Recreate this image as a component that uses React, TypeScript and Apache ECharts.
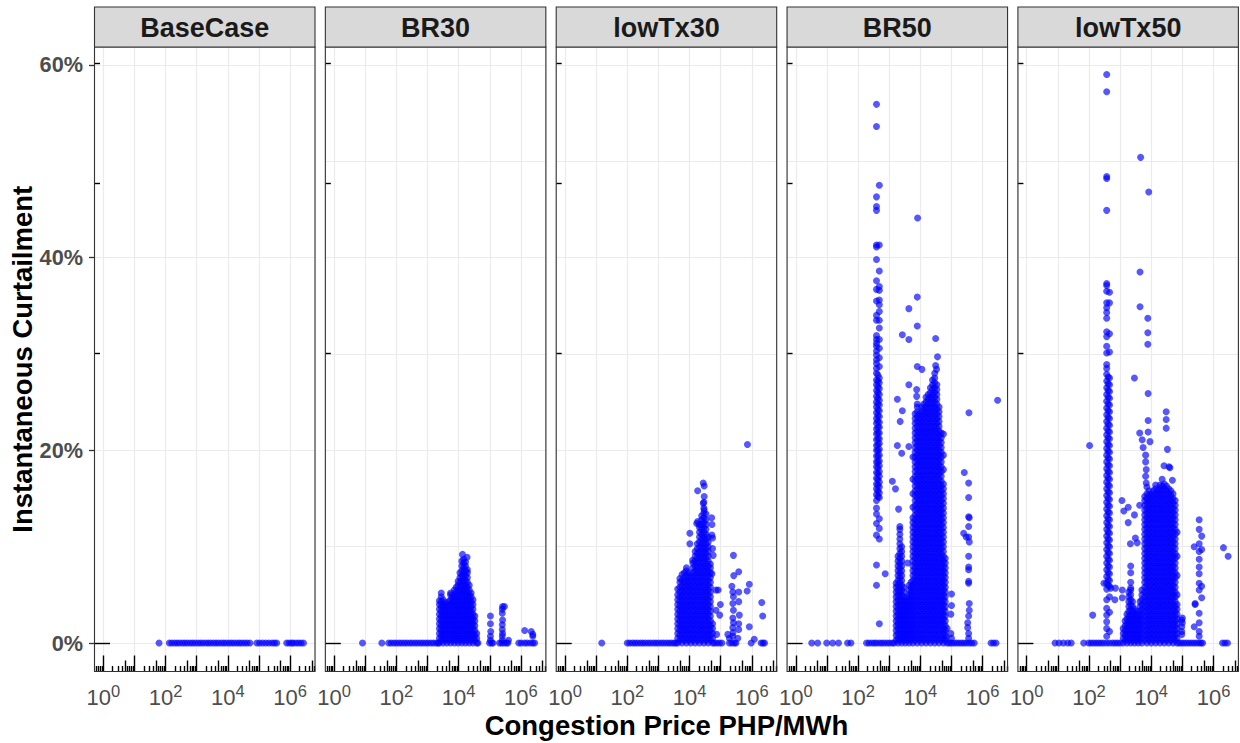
import React, { useEffect, useRef } from 'react';
import * as echarts from 'echarts';

// ---------- axis / scale values ----------
const panelNames = ['BaseCase', 'BR30', 'lowTx30', 'BR50', 'lowTx50'];
const logPriceMin = -0.283; // log10(PHP/MWh)
const logPriceMax = 6.8;
const curtMin = -2.95; // %
const curtMax = 61.85;
const xLabelExponents = [0, 2, 4, 6];
const yLabelValues = [0, 20, 40, 60];
const xTitle = 'Congestion Price PHP/MWh';
const yTitle = 'Instantaneous Curtailment';

// ---------- data: x = log10(congestion price), y = curtailment % ----------
// points at 0 % curtailment (x only)
const baseZero = [1.79, 2.12, 2.2, 2.29, 2.37, 2.45, 2.54, 2.62, 2.7, 2.79, 2.87, 2.95, 3.04, 3.12, 3.2, 3.29, 3.37, 3.45, 3.54, 3.62, 3.7, 3.79, 3.87, 3.95, 4.04, 4.12, 4.2, 4.29, 4.37, 4.45, 4.54, 4.62, 4.71, 4.93, 5.02, 5.12, 5.22, 5.32, 5.42, 5.5, 5.57, 5.89, 5.97, 6.05, 6.1, 6.19, 6.27, 6.35, 6.43];

const br30Zero = [0.91, 1.53, 1.75, 1.83, 1.92, 2.0, 2.09, 2.17, 2.26, 2.34, 2.43, 2.51, 2.6, 2.68, 2.77, 2.85, 2.94, 3.02, 3.11, 3.19, 3.28, 3.34, 4.62, 4.99, 5.06, 5.1, 5.31, 5.38, 5.45, 5.53, 5.58, 5.93, 6.01, 6.12, 6.2, 6.3, 6.38, 6.44];
const br30Cols: [number, number[]][] = [
  [3.38, [0, 0.5, 1, 1.5, 2, 2.5, 3, 3.5, 4, 4.4]],
  [3.44, [0.3, 0.8, 1.3, 1.8, 2.3, 2.8, 3.3, 3.8, 4.3, 4.8, 5.2]],
  [3.5, [0, 0.5, 1, 1.5, 2, 2.5, 3, 3.5, 4, 4.5]],
  [3.56, [0.3, 0.8, 1.3, 1.8, 2.3, 2.8, 3.3, 3.8, 4.2]],
  [3.62, [0, 0.5, 1, 1.5, 2, 2.5, 3, 3.5, 4]],
  [3.68, [0.3, 0.8, 1.3, 1.8, 2.3, 2.8, 3.3, 3.8, 4.3]],
  [3.74, [0, 0.5, 1, 1.5, 2, 2.5, 3, 3.5, 4, 4.5, 5, 5.2]],
  [3.8, [0.3, 0.8, 1.3, 1.8, 2.3, 2.8, 3.3, 3.8, 4.3, 4.8]],
  [3.86, [0, 0.5, 1, 1.5, 2, 2.5, 3, 3.5, 4, 4.5, 5, 5.5]],
  [3.92, [0.3, 0.8, 1.3, 1.8, 2.3, 2.8, 3.3, 3.8, 4.3, 4.8, 5.3, 5.8]],
  [3.98, [0, 0.5, 1, 1.5, 2, 2.5, 3, 3.5, 4, 4.5, 5, 5.5, 6, 6.4]],
  [4.04, [0.3, 0.8, 1.3, 1.8, 2.3, 2.8, 3.3, 3.8, 4.3, 4.8, 5.3, 5.8, 6.3, 6.8, 7.3]],
  [4.1, [0, 0.5, 1, 1.5, 2, 2.5, 3, 3.5, 4, 4.5, 5, 5.5, 6, 6.5, 7, 7.5, 8, 8.5]],
  [4.12, [9.2]],
  [4.16, [0.3, 0.8, 1.3, 1.8, 2.3, 2.8, 3.3, 3.8, 4.3, 4.8, 5.3, 5.8, 6.3, 6.8, 7.3, 7.8, 8.3, 8.7]],
  [4.22, [0, 0.5, 1, 1.5, 2, 2.5, 3, 3.5, 4, 4.5, 5, 5.5, 6, 6.5, 7, 7.5, 8, 8.4]],
  [4.27, [8.9]],
  [4.28, [0.3, 0.8, 1.3, 1.8, 2.3, 2.8, 3.3, 3.8, 4.3, 4.8, 5.3, 5.8, 6.3, 6.8, 7.3, 7.6]],
  [4.34, [0, 0.5, 1, 1.5, 2, 2.5, 3, 3.5, 4, 4.5, 5, 5.5, 6]],
  [4.4, [0.3, 0.8, 1.3, 1.8, 2.3, 2.8, 3.3, 3.8, 4.3, 4.8, 5.2]],
  [4.46, [0, 0.5, 1, 1.5, 2, 2.5, 3, 3.5, 4, 4.5]],
  [4.52, [0.3, 0.8, 1.3, 1.8, 2.3, 2.8]],
  [4.58, [0, 0.5, 1.0]],
];
const br30Pts = [[5.02, 0.3], [5.02, 0.7], [5.03, 1.2], [5.02, 2.0], [5.02, 2.8], [5.4, 0.3], [5.4, 0.7], [5.41, 1.0], [5.4, 1.4], [5.4, 1.9], [5.41, 2.4], [5.4, 3.1], [5.4, 3.5], [5.41, 3.8], [5.47, 3.8], [5.6, 0.3], [6.12, 1.3], [6.33, 1.2], [6.38, 0.9], [6.38, 0.7]];

const lt30Zero = [1.18, 2.0, 2.08, 2.17, 2.25, 2.33, 2.42, 2.5, 2.58, 2.67, 2.75, 2.84, 2.92, 3.0, 3.09, 3.17, 3.26, 3.34, 3.42, 3.5, 3.56, 4.8, 4.88, 4.96, 5.04, 5.28, 5.36, 5.44, 5.49, 5.98, 6.3, 6.36, 6.41];
const lt30Cols: [number, number[]][] = [
  [3.62, [0, 0.5, 1, 1.5, 2, 2.5, 3, 3.5, 4, 4.5, 5, 5.6]],
  [3.69, [0.3, 0.8, 1.3, 1.8, 2.3, 2.8, 3.3, 3.8, 4.3, 4.8, 5.3, 5.8, 6.3, 6.7]],
  [3.76, [0, 0.5, 1, 1.5, 2, 2.5, 3, 3.5, 4, 4.5, 5, 5.5, 6, 6.5, 7.1]],
  [3.83, [0.3, 0.8, 1.3, 1.8, 2.3, 2.8, 3.3, 3.8, 4.3, 4.8, 5.3, 5.8, 6.3, 6.8, 7.3]],
  [3.9, [0, 0.5, 1, 1.5, 2, 2.5, 3, 3.5, 4, 4.5, 5, 5.5, 6, 6.5, 7, 7.5, 7.8]],
  [3.97, [0.3, 0.8, 1.3, 1.8, 2.3, 2.8, 3.3, 3.8, 4.3, 4.8, 5.3, 5.8, 6.3, 6.8, 7.3]],
  [4.04, [0, 0.5, 1, 1.5, 2, 2.5, 3, 3.5, 4, 4.5, 5, 5.5, 6, 6.5, 7]],
  [4.11, [0.3, 0.8, 1.3, 1.8, 2.3, 2.8, 3.3, 3.8, 4.3, 4.8, 5.3, 5.8, 6.3, 6.8, 7.3, 7.8, 8.3]],
  [4.18, [0, 0.5, 1, 1.5, 2, 2.5, 3, 3.5, 4, 4.5, 5, 5.5, 6, 6.5, 7, 7.5, 8, 8.5, 9, 9.5]],
  [4.25, [0.3, 0.8, 1.3, 1.8, 2.3, 2.8, 3.3, 3.8, 4.3, 4.8, 5.3, 5.8, 6.3, 6.8, 7.3, 7.8, 8.3, 8.8, 9.3, 9.8, 10.3]],
  [4.32, [0, 0.5, 1, 1.5, 2, 2.5, 3, 3.5, 4, 4.5, 5, 5.5, 6, 6.5, 7, 7.5, 8, 8.5, 9, 9.5, 10, 10.5, 11, 11.5, 12, 12.3]],
  [4.39, [0.3, 0.8, 1.3, 1.8, 2.3, 2.8, 3.3, 3.8, 4.3, 4.8, 5.3, 5.8, 6.3, 6.8, 7.3, 7.8, 8.3, 8.8, 9.3, 9.8, 10.3, 10.8, 11.3, 11.8, 12.3, 12.8, 13.2]],
  [4.46, [0, 0.5, 1, 1.5, 2, 2.5, 3, 3.5, 4, 4.5, 5, 5.5, 6, 6.5, 7, 7.5, 8, 8.5, 9, 9.5, 10, 10.5, 11, 11.5, 12, 12.5, 13, 13.5, 14, 14.6]],
  [4.53, [0.3, 0.8, 1.3, 1.8, 2.3, 2.8, 3.3, 3.8, 4.3, 4.8, 5.3, 5.8, 6.3, 6.8, 7.3, 7.8, 8.3, 8.8, 9.3, 9.8, 10.3, 10.8, 11.3, 11.8, 12.3, 12.8, 13.4]],
  [4.6, [0, 0.5, 1, 1.5, 2, 2.5, 3, 3.5, 4, 4.5, 5, 5.5, 6, 6.5, 7, 7.5, 8, 8.5, 9, 9.5, 10, 10.5, 11]],
  [4.67, [0.3, 0.8, 1.3, 1.8, 2.3, 2.8, 3.3, 3.8, 4.3, 4.8, 5.3, 5.8, 6.3, 6.8, 7.3, 7.8, 8.2]],
  [4.74, [0, 0.5, 1, 1.5, 2]],
];
const lt30Pts = [[4.44, 16.6], [4.47, 16.3], [4.26, 15.8], [4.47, 15.2], [4.44, 14.5], [4.47, 13.8], [4.71, 13.0], [4.72, 12.3], [4.72, 11.2], [4.74, 10.9], [4.74, 9.8], [4.76, 9.1], [4.72, 7.2], [4.85, 5.5], [4.92, 5.5], [4.99, 4.0], [4.85, 3.4], [4.97, 2.9], [4.87, 0.9], [4.23, 12.4], [4.26, 12.6], [4.1, 8.6], [4.01, 11.4], [4.01, 10.3], [5.41, 9.1], [5.42, 7.0], [5.58, 7.4], [5.36, 5.9], [5.39, 5.3], [5.41, 4.8], [5.39, 4.1], [5.41, 3.4], [5.39, 2.6], [5.41, 2.1], [5.39, 1.6], [5.4, 1.1], [5.39, 0.7], [5.58, 5.3], [5.58, 4.3], [5.6, 2.9], [5.58, 2.0], [5.58, 1.4], [5.55, 0.5], [5.23, 0.9], [5.28, 0.5], [5.86, 20.6], [5.92, 6.1], [5.85, 5.4], [5.92, 1.7], [6.08, 0.4], [6.32, 4.2], [6.35, 2.8]];

const br50Zero = [0.51, 0.7, 0.99, 1.18, 1.37, 1.66, 1.77, 2.27, 2.35, 2.44, 2.52, 2.76, 2.84, 2.93, 3.01, 3.1, 3.16, 4.86, 4.93, 5.0, 5.08, 5.16, 5.24, 5.32, 5.4, 5.48, 5.57, 5.65, 5.73, 6.27, 6.35, 6.43];
const br50Cols: [number, number[]][] = [
  [2.59, [55.9, 53.6, 46.3, 45.3, 44.9, 41.3, 41.1, 39.8, 37.6, 36.7, 35.5, 34.0, 33.5, 31.9, 31.5, 31.1, 30.8, 30.3, 29.9, 29.4, 29.0, 28.5, 28.0, 27.3, 26.8, 26.2, 25.6, 25.0, 24.5, 23.9, 23.3, 22.8, 22.2, 21.7, 21.1, 20.5, 20.0, 19.4, 18.8, 18.3, 17.7, 17.1, 16.5, 16.0, 15.4, 14.8, 14.0, 13.4, 12.4, 11.2, 8.1, 6.0, 0]],
  [2.635, [27.8, 27.2, 26.6, 26.0, 25.4, 24.8, 24.2, 23.6, 23.0, 22.4, 21.8, 21.2, 20.6, 20.0, 19.4, 18.8, 18.2, 17.6, 17.0, 16.4, 15.8, 15.2]],
  [2.68, [47.5, 41.3, 38.6, 37.0, 36.6, 35.6, 35.1, 34.4, 33.5, 32.7, 31.5, 30.6, 29.6, 28.7, 27.5, 27.0, 26.4, 25.8, 25.2, 24.7, 24.1, 23.5, 22.9, 22.4, 21.8, 21.2, 20.7, 20.1, 19.5, 18.9, 18.4, 17.8, 17.3, 16.7, 16.2, 15.6, 15.1, 12.9, 11.9, 10.8, 2.0, 0]],
  [3.22, [0.3, 0.8, 1.3, 1.8, 2.3, 2.8, 3.3, 3.8, 4.3, 4.8, 5.3, 5.8, 6.2]],
  [3.28, [0, 0.5, 1, 1.5, 2, 2.5, 3, 3.5, 4, 4.5, 5, 5.5, 6, 6.5, 7, 7.5, 8, 8.5, 9]],
  [3.34, [0.3, 0.8, 1.3, 1.8, 2.3, 2.8, 3.3, 3.8, 4.3, 4.8, 5.3, 5.8, 6.3, 6.8, 7.3, 7.8, 8.3, 8.8, 9.3, 9.8, 10.3, 10.8, 11.3, 11.8, 12.1]],
  [3.4, [0, 0.5, 1, 1.5, 2, 2.5, 3, 3.5, 4, 4.5, 5, 5.5, 6, 6.5, 7, 7.5, 8, 8.5, 9, 9.5, 10]],
  [3.46, [0.3, 0.8, 1.3, 1.8, 2.3, 2.8, 3.3, 3.8, 4.3, 4.8, 5.3, 5.8]],
  [3.52, [0, 0.5, 1, 1.5, 2, 2.5, 3, 3.5, 4, 4.5]],
  [3.58, [0.3, 0.8, 1.3, 1.8, 2.3, 2.8, 3.3, 3.8, 4.3, 4.8]],
  [3.64, [0, 0.5, 1, 1.5, 2, 2.5, 3, 3.5, 4, 4.5, 5, 5.5, 6]],
  [3.7, [0.3, 0.8, 1.3, 1.8, 2.3, 2.8, 3.3, 3.8, 4.3, 4.8, 5.3, 5.8, 6.3]],
  [3.76, [0, 0.5, 1, 1.5, 2, 2.5, 3, 3.5, 4, 4.5, 5, 5.5, 6, 6.5, 7, 7.5, 8, 8.5, 9, 9.5, 10, 10.5, 11, 11.5, 12, 12.5, 13, 14.1, 15.5, 17.0, 19.3]],
  [3.83, [0.3, 0.8, 1.3, 1.8, 2.3, 2.8, 3.3, 3.8, 4.3, 4.8, 5.3, 5.8, 6.3, 6.8, 7.3, 7.8, 8.3, 8.8, 9.3, 9.8, 10.3, 10.8, 11.3, 11.8, 12.3, 12.8, 13.3, 13.8, 14.3, 14.8, 15.3, 15.8, 16.3, 16.8, 17.3, 17.8, 18.3, 18.8, 19.3, 19.8, 20.3, 20.8, 21.3, 21.8, 22.3, 22.8, 23.3, 23.8]],
  [3.9, [0, 0.5, 1, 1.5, 2, 2.5, 3, 3.5, 4, 4.5, 5, 5.5, 6, 6.5, 7, 7.5, 8, 8.5, 9, 9.5, 10, 10.5, 11, 11.5, 12, 12.5, 13, 13.5, 14, 14.5, 15, 15.5, 16, 16.5, 17, 17.5, 18, 18.5, 19, 19.5, 20, 20.5, 21, 21.5, 22, 22.5, 23, 23.5, 24, 24.5]],
  [3.97, [0.3, 0.8, 1.3, 1.8, 2.3, 2.8, 3.3, 3.8, 4.3, 4.8, 5.3, 5.8, 6.3, 6.8, 7.3, 7.8, 8.3, 8.8, 9.3, 9.8, 10.3, 10.8, 11.3, 11.8, 12.3, 12.8, 13.3, 13.8, 14.3, 14.8, 15.3, 15.8, 16.3, 16.8, 17.3, 17.8, 18.3, 18.8, 19.3, 19.8, 20.3, 20.8, 21.3, 21.8, 22.3, 22.8, 23.3, 23.8]],
  [4.04, [0, 0.5, 1, 1.5, 2, 2.5, 3, 3.5, 4, 4.5, 5, 5.5, 6, 6.5, 7, 7.5, 8, 8.5, 9, 9.5, 10, 10.5, 11, 11.5, 12, 12.5, 13, 13.5, 14, 14.5, 15, 15.5, 16, 16.5, 17, 17.5, 18, 18.5, 19, 19.5, 20, 20.5, 21, 21.5, 22, 22.5, 23, 23.5, 24, 24.5]],
  [4.11, [0.3, 0.8, 1.3, 1.8, 2.3, 2.8, 3.3, 3.8, 4.3, 4.8, 5.3, 5.8, 6.3, 6.8, 7.3, 7.8, 8.3, 8.8, 9.3, 9.8, 10.3, 10.8, 11.3, 11.8, 12.3, 12.8, 13.3, 13.8, 14.3, 14.8, 15.3, 15.8, 16.3, 16.8, 17.3, 17.8, 18.3, 18.8, 19.3, 19.8, 20.3, 20.8, 21.3, 21.8, 22.3, 22.8, 23.3, 23.8, 24.3, 24.8]],
  [4.18, [0, 0.5, 1, 1.5, 2, 2.5, 3, 3.5, 4, 4.5, 5, 5.5, 6, 6.5, 7, 7.5, 8, 8.5, 9, 9.5, 10, 10.5, 11, 11.5, 12, 12.5, 13, 13.5, 14, 14.5, 15, 15.5, 16, 16.5, 17, 17.5, 18, 18.5, 19, 19.5, 20, 20.5, 21, 21.5, 22, 22.5, 23, 23.5, 24, 24.5, 25, 25.5]],
  [4.25, [0.3, 0.8, 1.3, 1.8, 2.3, 2.8, 3.3, 3.8, 4.3, 4.8, 5.3, 5.8, 6.3, 6.8, 7.3, 7.8, 8.3, 8.8, 9.3, 9.8, 10.3, 10.8, 11.3, 11.8, 12.3, 12.8, 13.3, 13.8, 14.3, 14.8, 15.3, 15.8, 16.3, 16.8, 17.3, 17.8, 18.3, 18.8, 19.3, 19.8, 20.3, 20.8, 21.3, 21.8, 22.3, 22.8, 23.3, 23.8, 24.3, 24.8, 25.3, 25.8]],
  [4.32, [0, 0.5, 1, 1.5, 2, 2.5, 3, 3.5, 4, 4.5, 5, 5.5, 6, 6.5, 7, 7.5, 8, 8.5, 9, 9.5, 10, 10.5, 11, 11.5, 12, 12.5, 13, 13.5, 14, 14.5, 15, 15.5, 16, 16.5, 17, 17.5, 18, 18.5, 19, 19.5, 20, 20.5, 21, 21.5, 22, 22.5, 23, 23.5, 24, 24.5, 25, 25.5, 26, 26.5]],
  [4.39, [0.3, 0.8, 1.3, 1.8, 2.3, 2.8, 3.3, 3.8, 4.3, 4.8, 5.3, 5.8, 6.3, 6.8, 7.3, 7.8, 8.3, 8.8, 9.3, 9.8, 10.3, 10.8, 11.3, 11.8, 12.3, 12.8, 13.3, 13.8, 14.3, 14.8, 15.3, 15.8, 16.3, 16.8, 17.3, 17.8, 18.3, 18.8, 19.3, 19.8, 20.3, 20.8, 21.3, 21.8, 22.3, 22.8, 23.3, 23.8, 24.3, 24.8, 25.3, 25.8, 26.3, 26.8, 27.3]],
  [4.46, [0, 0.5, 1, 1.5, 2, 2.5, 3, 3.5, 4, 4.5, 5, 5.5, 6, 6.5, 7, 7.5, 8, 8.5, 9, 9.5, 10, 10.5, 11, 11.5, 12, 12.5, 13, 13.5, 14, 14.5, 15, 15.5, 16, 16.5, 17, 17.5, 18, 18.5, 19, 19.5, 20, 20.5, 21, 21.5, 22, 22.5, 23, 23.5, 24, 24.5, 25, 25.5, 26, 26.5, 27, 27.5, 28]],
  [4.53, [0.3, 0.8, 1.3, 1.8, 2.3, 2.8, 3.3, 3.8, 4.3, 4.8, 5.3, 5.8, 6.3, 6.8, 7.3, 7.8, 8.3, 8.8, 9.3, 9.8, 10.3, 10.8, 11.3, 11.8, 12.3, 12.8, 13.3, 13.8, 14.3, 14.8, 15.3, 15.8, 16.3, 16.8, 17.3, 17.8, 18.3, 18.8, 19.3, 19.8, 20.3, 20.8, 21.3, 21.8, 22.3, 22.8, 23.3, 23.8, 24.3, 24.8, 25.3, 25.8, 26.3, 26.8]],
  [4.6, [0, 0.5, 1, 1.5, 2, 2.5, 3, 3.5, 4, 4.5, 5, 5.5, 6, 6.5, 7, 7.5, 8, 8.5, 9, 9.5, 10, 10.5, 11, 11.5, 12, 12.5, 13, 13.5, 14, 14.5, 15, 15.5, 16, 16.5, 17, 17.5, 18, 18.5, 19, 19.5, 20, 20.5, 21, 21.5, 22, 22.5, 23, 23.5, 24, 24.5]],
  [4.67, [0.3, 0.8, 1.3, 1.8, 2.3, 2.8, 3.3, 3.8, 4.3, 4.8, 5.3, 5.8, 6.3, 6.8, 7.3, 7.8, 8.3, 8.8, 9.3, 9.8, 10.3, 10.8, 11.3, 11.8, 12.3, 12.8, 13.3, 13.8, 14.3, 14.8, 15.3, 15.8, 16.3, 16.8, 17.3, 17.8, 18.3, 18.8, 19.3, 19.8, 20.3, 20.8, 21.3, 21.8]],
  [4.74, [0, 0.5, 1, 1.5, 2, 2.5, 3, 3.5, 4, 4.5, 5, 5.5, 6, 6.5, 7, 7.5, 8, 8.5, 9, 9.5, 10, 10.5, 11, 11.5, 12, 12.5, 13, 13.5, 14, 14.5, 15, 15.5, 16, 16.5, 18.0, 19.5, 21.7]],
  [4.8, [0.3, 0.8, 1.3, 1.8, 2.3, 2.8, 3.3, 3.8, 4.3, 4.8, 5.3, 5.8, 6.3, 6.8, 7.3, 7.8, 8.3, 8.8]],
];
const br50Pts = [[3.91, 44.1], [3.9, 35.9], [3.63, 34.7], [3.9, 32.9], [3.42, 32.0], [3.63, 31.5], [4.49, 31.6], [4.55, 29.7], [3.9, 28.7], [4.05, 28.4], [4.49, 28.8], [4.52, 28.4], [3.63, 26.8], [3.26, 25.3], [3.42, 24.1], [3.35, 23.0], [3.26, 20.5], [3.4, 19.7], [3.63, 20.4], [3.1, 16.8], [3.2, 16.0], [3.3, 13.9], [2.87, 7.2], [3.59, 8.3], [3.88, 26.3], [3.88, 25.6], [3.9, 24.8], [5.56, 23.9], [6.48, 25.2], [5.41, 17.7], [5.55, 16.6], [5.55, 15.1], [5.55, 13.1], [5.57, 13.0], [5.55, 12.1], [5.39, 11.4], [5.47, 11.0], [5.55, 11.0], [5.57, 10.5], [5.55, 9.0], [5.55, 7.9], [5.55, 7.6], [5.55, 6.4], [5.55, 6.2], [5.57, 4.1], [5.57, 3.4], [5.55, 2.8], [5.52, 2.1], [5.52, 1.6], [5.55, 1.0], [5.55, 0.5], [5.0, 5.1], [5.0, 3.9], [4.98, 3.0], [4.98, 1.0], [5.0, 0.5], [4.86, 1.5], [4.84, 0.6]];

const lt50Zero = [0.91, 1.04, 1.18, 1.32, 1.43, 1.83, 1.99, 2.07, 2.15, 2.23, 2.31, 2.39, 2.47, 2.76, 2.84, 2.92, 3.0, 4.9, 4.97, 5.05, 5.13, 5.21, 5.29, 5.37, 5.45, 5.53, 5.6, 5.65, 6.29, 6.37, 6.45];
const lt50Cols: [number, number[]][] = [
  [2.57, [59.0, 57.2, 48.4, 48.2, 44.9, 37.3, 37.1, 36.5, 35.3, 34.8, 34.3, 33.7, 32.3, 31.8, 30.8, 30.1, 28.9, 28.5, 27.9, 27.2, 26.5, 25.8, 25.1, 24.4, 23.7, 23.0, 22.3, 21.6, 20.9, 20.2, 19.5, 18.8, 18.1, 17.4, 16.7, 16.0, 15.3, 14.6, 13.9, 13.2, 12.5, 11.8, 11.1, 10.4, 9.7, 9.0, 8.3, 7.6, 6.9, 6.2, 5.6, 4.5, 3.6, 2.9, 2.2, 1.5, 0.7, 0]],
  [2.615, [27.6, 26.9, 26.2, 25.5, 24.8, 24.1, 23.4, 22.7, 22.0, 21.3, 20.6, 19.9, 19.2, 18.5, 17.8, 17.1, 16.4, 15.7, 15.0, 14.3, 13.6, 12.9, 12.2, 11.5, 10.8, 10.1, 9.4, 8.7, 8.0, 7.3, 6.6, 6.0]],
  [2.66, [36.4, 35.3, 32.1, 30.2, 27.5, 26.8, 26.1, 25.4, 24.7, 24.0, 23.3, 22.6, 21.9, 21.2, 20.5, 19.8, 19.1, 18.4, 17.7, 17.0, 16.3, 15.6, 14.9, 14.2, 13.5, 12.8, 12.1, 11.4, 10.7, 10.0, 9.3, 8.6, 7.9, 7.2, 6.5, 5.9, 4.8, 3.2, 1.2, 0]],
  [3.1, [0, 0.5, 1, 1.5]],
  [3.16, [0.3, 0.8, 1.3, 1.8, 2.3]],
  [3.22, [0, 0.5, 1, 1.5, 2, 2.5, 3]],
  [3.28, [0.3, 0.8, 1.3, 1.8, 2.3, 2.8, 3.3, 3.8, 4.3, 4.8, 5.3]],
  [3.34, [0, 0.5, 1, 1.5, 2, 2.5, 3, 3.5, 4, 4.5, 5, 5.5, 5.7]],
  [3.4, [0.3, 0.8, 1.3, 1.8, 2.3, 2.8, 3.3, 3.8, 4.3]],
  [3.46, [0, 0.5, 1, 1.5, 2, 2.5, 3, 3.5]],
  [3.52, [0.3, 0.8, 1.3, 1.8, 2.3, 2.8, 3.3]],
  [3.58, [0, 0.5, 1, 1.5, 2, 2.5, 3]],
  [3.64, [0.3, 0.8, 1.3, 1.8, 2.3, 2.8, 3.3, 3.8, 4.3]],
  [3.7, [0, 0.5, 1, 1.5, 2, 2.5, 3, 3.5, 4, 4.5, 5, 5.5]],
  [3.79, [0.3, 0.8, 1.3, 1.8, 2.3, 2.8, 3.3, 3.8, 4.3, 4.8, 5.3, 5.8, 6.3, 6.8, 7.3, 7.8, 8.3, 8.8, 9.3, 9.8, 10.3, 10.8, 11.3, 11.8, 12.3, 12.8, 13.3, 13.8, 14.3, 14.8, 15.2]],
  [3.86, [0, 0.5, 1, 1.5, 2, 2.5, 3, 3.5, 4, 4.5, 5, 5.5, 6, 6.5, 7, 7.5, 8, 8.5, 9, 9.5, 10, 10.5, 11, 11.5, 12, 12.5, 13, 13.5, 14, 14.5, 15, 15.5, 16.2]],
  [3.93, [0.3, 0.8, 1.3, 1.8, 2.3, 2.8, 3.3, 3.8, 4.3, 4.8, 5.3, 5.8, 6.3, 6.8, 7.3, 7.8, 8.3, 8.8, 9.3, 9.8, 10.3, 10.8, 11.3, 11.8, 12.3, 12.8, 13.3, 13.8, 14.3, 14.8, 15.3, 15.8]],
  [4.0, [0, 0.5, 1, 1.5, 2, 2.5, 3, 3.5, 4, 4.5, 5, 5.5, 6, 6.5, 7, 7.5, 8, 8.5, 9, 9.5, 10, 10.5, 11, 11.5, 12, 12.5, 13, 13.5, 14, 14.5, 15, 15.5]],
  [4.07, [0.3, 0.8, 1.3, 1.8, 2.3, 2.8, 3.3, 3.8, 4.3, 4.8, 5.3, 5.8, 6.3, 6.8, 7.3, 7.8, 8.3, 8.8, 9.3, 9.8, 10.3, 10.8, 11.3, 11.8, 12.3, 12.8, 13.3, 13.8, 14.3, 14.8, 15.3, 15.8]],
  [4.14, [0, 0.5, 1, 1.5, 2, 2.5, 3, 3.5, 4, 4.5, 5, 5.5, 6, 6.5, 7, 7.5, 8, 8.5, 9, 9.5, 10, 10.5, 11, 11.5, 12, 12.5, 13, 13.5, 14, 14.5, 15, 15.5, 16, 16.4]],
  [4.21, [0.3, 0.8, 1.3, 1.8, 2.3, 2.8, 3.3, 3.8, 4.3, 4.8, 5.3, 5.8, 6.3, 6.8, 7.3, 7.8, 8.3, 8.8, 9.3, 9.8, 10.3, 10.8, 11.3, 11.8, 12.3, 12.8, 13.3, 13.8, 14.3, 14.8, 15.3, 15.8]],
  [4.28, [0, 0.5, 1, 1.5, 2, 2.5, 3, 3.5, 4, 4.5, 5, 5.5, 6, 6.5, 7, 7.5, 8, 8.5, 9, 9.5, 10, 10.5, 11, 11.5, 12, 12.5, 13, 13.5, 14, 14.5, 15, 15.5, 16, 16.4]],
  [4.35, [0.3, 0.8, 1.3, 1.8, 2.3, 2.8, 3.3, 3.8, 4.3, 4.8, 5.3, 5.8, 6.3, 6.8, 7.3, 7.8, 8.3, 8.8, 9.3, 9.8, 10.3, 10.8, 11.3, 11.8, 12.3, 12.8, 13.3, 13.8, 14.3, 14.8, 15.3, 15.8, 16.3, 17.0]],
  [4.42, [0, 0.5, 1, 1.5, 2, 2.5, 3, 3.5, 4, 4.5, 5, 5.5, 6, 6.5, 7, 7.5, 8, 8.5, 9, 9.5, 10, 10.5, 11, 11.5, 12, 12.5, 13, 13.5, 14, 14.5, 15, 15.5, 16, 16.5]],
  [4.49, [0.3, 0.8, 1.3, 1.8, 2.3, 2.8, 3.3, 3.8, 4.3, 4.8, 5.3, 5.8, 6.3, 6.8, 7.3, 7.8, 8.3, 8.8, 9.3, 9.8, 10.3, 10.8, 11.3, 11.8, 12.3, 12.8, 13.3, 13.8, 14.3, 14.8, 15.3, 15.8, 16.3]],
  [4.56, [0, 0.5, 1, 1.5, 2, 2.5, 3, 3.5, 4, 4.5, 5, 5.5, 6, 6.5, 7, 7.5, 8, 8.5, 9, 9.5, 10, 10.5, 11, 11.5, 12, 12.5, 13, 13.5, 14, 14.5, 15, 15.5, 16]],
  [4.63, [0.3, 0.8, 1.3, 1.8, 2.3, 2.8, 3.3, 3.8, 4.3, 4.8, 5.3, 5.8, 6.3, 6.8, 7.3, 7.8, 8.3, 8.8, 9.3, 9.8, 10.3, 10.8, 11.3, 11.8, 12.3, 12.8, 13.3, 13.8, 14.3, 14.8, 15.3, 15.8]],
  [4.7, [0, 0.5, 1, 1.5, 2, 2.5, 3, 3.5, 4, 4.5, 5, 5.5, 6, 6.5, 7, 7.5, 8, 8.5, 9, 9.5, 10, 10.5, 11, 11.5, 12, 12.5, 13, 13.5, 14, 14.5, 15, 15.5]],
  [4.77, [0.3, 0.8, 1.3, 1.8, 2.3, 2.8, 3.3, 3.8, 4.3, 4.8, 5.3, 5.8, 6.3, 6.8, 7.3, 7.8, 8.3, 8.8, 9.3, 9.8, 10.3, 10.8, 11.3, 11.8, 12.3, 12.8, 13.3, 13.8, 14.3, 14.8]],
  [4.83, [0, 0.5, 1, 1.5, 2, 2.5, 3, 3.5, 4, 5.0, 7.0, 9.0, 11.5]],
];
const lt50Pts = [[3.66, 50.4], [3.92, 46.8], [3.64, 38.5], [3.64, 34.9], [3.89, 33.7], [3.89, 32.2], [3.89, 31.0], [3.46, 27.5], [3.9, 25.9], [4.48, 24.0], [4.48, 23.2], [4.48, 22.3], [3.9, 23.1], [3.63, 21.8], [3.9, 21.9], [3.71, 21.1], [3.96, 20.9], [3.74, 20.3], [2.02, 20.5], [4.52, 20.1], [4.57, 18.3], [4.41, 18.4], [4.6, 18.2], [4.68, 16.9], [3.82, 19.5], [3.82, 18.8], [3.84, 18.0], [3.82, 17.3], [3.84, 16.6], [3.06, 14.8], [3.12, 13.7], [3.26, 14.1], [3.26, 12.5], [3.63, 14.3], [3.46, 13.3], [3.33, 10.3], [3.49, 10.9], [3.55, 10.4], [3.34, 8.0], [3.34, 7.3], [3.34, 6.3], [2.12, 2.9], [2.85, 5.7], [2.83, 4.5], [2.48, 6.2], [2.7, 5.7], [3.07, 5.5], [3.07, 4.7], [4.98, 2.4], [4.98, 1.7], [4.98, 1.2], [4.98, 0.9], [5.0, 2.6], [5.0, 2.1], [5.54, 12.8], [5.54, 11.8], [5.62, 11.1], [5.38, 10.0], [5.54, 10.3], [5.62, 9.7], [5.54, 9.5], [5.54, 8.7], [5.54, 7.9], [5.54, 7.2], [5.54, 6.2], [5.62, 5.9], [5.54, 5.5], [5.62, 4.7], [5.41, 4.1], [5.41, 4.0], [5.54, 3.1], [5.54, 2.1], [5.38, 1.7], [5.54, 1.2], [5.54, 0.7], [6.32, 9.9], [6.47, 9.0]];

const panelData: [number[], [number, number[]][], number[][]][] = [
  [baseZero, [], []],
  [br30Zero, br30Cols, br30Pts],
  [lt30Zero, lt30Cols, lt30Pts],
  [br50Zero, br50Cols, br50Pts],
  [lt50Zero, lt50Cols, lt50Pts],
];

// ---------- layout / style ----------
const FONT = '"Liberation Sans", Arial, Helvetica, sans-serif';
const PANEL_LEFT = 94.5;
const PANEL_STEP = 230.85;
const PANEL_W = 220.5;
const PANEL_TOP = 47;
const PANEL_H = 624.5;
const STRIP_TOP = 7;
const STRIP_H = 40;

function buildPoints(zero: number[], cols: [number, number[]][], pts: number[][]) {
  const out: number[][] = [];
  zero.forEach((x) => out.push([x, 0]));
  cols.forEach(([x, ys]) => ys.forEach((y) => out.push([x, y])));
  pts.forEach((p) => out.push(p));
  return out;
}

// positions of log-scale annotation ticks inside a range
function logTicks(mults: number[], lo: number, hi: number) {
  const out: number[] = [];
  for (let k = -2; k <= 8; k++) {
    for (const m of mults) {
      const v = k + Math.log10(m);
      if (v >= lo && v <= hi) out.push(+v.toFixed(4));
    }
  }
  return out;
}

function buildOption() {
  const grids: any[] = [];
  const xAxes: any[] = [];
  const yAxes: any[] = [];
  const series: any[] = [];
  const graphics: any[] = [];

  const xLong = logTicks([1], logPriceMin, logPriceMax);
  const xMid = logTicks([5], logPriceMin, logPriceMax);
  const xShort = logTicks([2, 3, 4, 6, 7, 8, 9], logPriceMin, logPriceMax);
  const yLong = [0];
  const yShort = [2, 3, 4, 6, 7, 8, 9].map((m) => +(Math.log10(m) * 100).toFixed(2)).filter((v) => v <= curtMax);

  panelNames.forEach((name, i) => {
    const left = PANEL_LEFT + i * PANEL_STEP;
    grids.push({ left, top: PANEL_TOP, width: PANEL_W, height: PANEL_H, show: true, backgroundColor: '#ffffff', borderWidth: 0, containLabel: false });

    const xBase = xAxes.length;
    xAxes.push({
      type: 'value', gridIndex: i, min: logPriceMin, max: logPriceMax, minInterval: 1, maxInterval: 1, position: 'bottom',
      axisLine: { show: false, onZero: false }, axisTick: { show: false },
      splitLine: { show: true, lineStyle: { color: '#ebebeb', width: 1.2 } },
      axisLabel: {
        show: true, margin: 11, customValues: xLabelExponents,
        formatter: (v: number) => {
          const r = Math.round(v);
          return Math.abs(v - r) < 1e-6 && xLabelExponents.indexOf(r) >= 0 ? `{b|10}{s|${r}}` : '';
        },
        rich: {
          b: { fontSize: 22, color: '#4d4d4d', fontFamily: FONT, padding: [4, 0, 0, 0] },
          s: { fontSize: 16.5, color: '#4d4d4d', fontFamily: FONT, verticalAlign: 'top' },
        },
      },
    });
    ([[xLong, 16], [xMid, 11], [xShort, 5.5]] as [number[], number][]).forEach(([vals, len]) => {
      xAxes.push({
        type: 'value', gridIndex: i, min: logPriceMin, max: logPriceMax, position: 'bottom', offset: 0,
        axisLine: { show: false, onZero: false }, axisLabel: { show: false }, splitLine: { show: false },
        axisTick: { show: true, inside: true, length: len, customValues: vals, lineStyle: { color: '#000000', width: 1.4 } },
      });
    });

    const yBase = yAxes.length;
    yAxes.push({
      type: 'value', gridIndex: i, min: curtMin, max: curtMax, minInterval: 10, maxInterval: 10, position: 'left',
      axisLine: { show: false, onZero: false },
      axisTick: i === 0 ? { show: true, length: 5.5, customValues: yLabelValues, lineStyle: { color: '#333333', width: 1.3 } } : { show: false },
      splitLine: { show: true, lineStyle: { color: '#ebebeb', width: 1.2 } },
      axisLabel: i === 0
        ? { show: true, margin: 11.5, customValues: yLabelValues, formatter: (v: number) => `${Math.round(v)}%`, fontSize: 21.7, fontWeight: 'bold', color: '#4d4d4d', fontFamily: FONT }
        : { show: false },
    });
    ([[yLong, 15.5], [yShort, 5.5]] as [number[], number][]).forEach(([vals, len]) => {
      yAxes.push({
        type: 'value', gridIndex: i, min: curtMin, max: curtMax, position: 'left', offset: 0,
        axisLine: { show: false, onZero: false }, axisLabel: { show: false }, splitLine: { show: false },
        axisTick: { show: true, inside: true, length: len, customValues: vals, lineStyle: { color: '#000000', width: 1.4 } },
      });
    });

    const [zero, cols, pts] = panelData[i];
    series.push({
      type: 'scatter', name, xAxisIndex: xBase, yAxisIndex: yBase,
      data: buildPoints(zero, cols, pts),
      symbol: 'circle', symbolSize: 7, silent: true, large: false, progressive: 0,
      itemStyle: { color: '#0000ff', opacity: 0.66 },
      emphasis: { disabled: true },
    });

    // panel border
    graphics.push({ type: 'rect', z: 100, silent: true, shape: { x: left, y: PANEL_TOP, width: PANEL_W, height: PANEL_H }, style: { fill: 'none', stroke: '#333333', lineWidth: 1.1 } });
    // strip
    graphics.push({ type: 'rect', z: 100, silent: true, shape: { x: left, y: STRIP_TOP, width: PANEL_W, height: STRIP_H }, style: { fill: '#d9d9d9', stroke: '#333333', lineWidth: 1.1 } });
    graphics.push({
      type: 'text', z: 101, silent: true, x: left + PANEL_W / 2, y: STRIP_TOP + STRIP_H / 2 + 1,
      style: { text: name, fill: '#1a1a1a', font: `bold 27px ${FONT}`, textAlign: 'center', textVerticalAlign: 'middle', verticalAlign: 'middle' },
    });
  });

  const plotCenterX = (PANEL_LEFT + PANEL_LEFT + 4 * PANEL_STEP + PANEL_W) / 2;
  graphics.push({
    type: 'text', z: 101, silent: true, x: plotCenterX, y: 725,
    style: { text: xTitle, fill: '#000000', font: `bold 27.5px ${FONT}`, textAlign: 'center', textVerticalAlign: 'middle', verticalAlign: 'middle' },
  });
  graphics.push({
    type: 'text', z: 101, silent: true, x: 22, y: PANEL_TOP + PANEL_H / 2, rotation: Math.PI / 2,
    style: { text: yTitle, fill: '#000000', font: `bold 27.5px ${FONT}`, textAlign: 'center', textVerticalAlign: 'middle', verticalAlign: 'middle' },
  });

  return {
    animation: false,
    backgroundColor: '#ffffff',
    grid: grids,
    xAxis: xAxes,
    yAxis: yAxes,
    series,
    graphic: { elements: graphics },
  };
}

export default function App() {
  const ref = useRef<HTMLDivElement>(null);
  useEffect(() => {
    if (!ref.current) return;
    const chart = echarts.init(ref.current, undefined, { renderer: 'svg' });
    chart.setOption(buildOption() as any);
    return () => chart.dispose();
  }, []);
  return <div ref={ref} style={{ position: 'fixed', left: 0, top: 0, width: 1240, height: 743, background: '#ffffff' }} />;
}
